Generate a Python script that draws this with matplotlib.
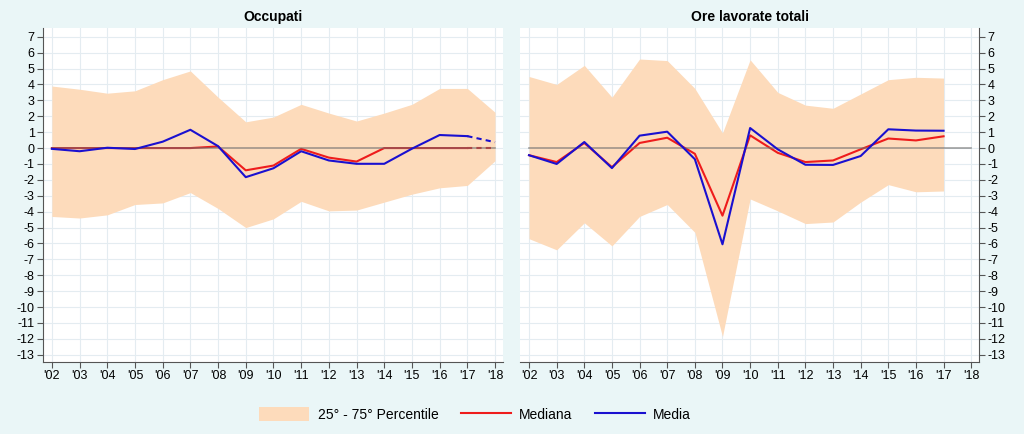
import matplotlib.pyplot as plt
from matplotlib.patches import Patch
from matplotlib.lines import Line2D
import numpy as np

plt.rcParams['font.family'] = ['Liberation Sans', 'DejaVu Sans']
plt.rcParams['axes.unicode_minus'] = False

years = list(range(2002, 2019))
tick_labels = ["'%02d" % (y % 100) for y in years]

# Occupati (2002-2018; 2018 drawn dashed)
occ_p75 = [3.9, 3.7, 3.45, 3.6, 4.3, 4.85, 3.2, 1.65, 1.95, 2.75, 2.2, 1.7, 2.2, 2.75, 3.75, 3.75, 2.25]
occ_p25 = [-4.3, -4.4, -4.2, -3.55, -3.45, -2.8, -3.8, -5.0, -4.45, -3.35, -3.95, -3.9, -3.4, -2.9, -2.5, -2.35, -0.8]
occ_median = [0.0, 0.0, 0.0, 0.0, 0.0, 0.0, 0.1, -1.4, -1.1, -0.05, -0.6, -0.85, 0.0, 0.0, 0.0, 0.0, 0.0]
occ_mean = [-0.05, -0.2, 0.02, -0.06, 0.4, 1.15, 0.12, -1.83, -1.27, -0.2, -0.78, -0.99, -0.99, -0.04, 0.82, 0.75, 0.37]

# Ore lavorate totali (2002-2017)
ore_p75 = [4.5, 4.0, 5.2, 3.2, 5.6, 5.5, 3.75, 0.95, 5.55, 3.5, 2.7, 2.5, 3.4, 4.3, 4.45, 4.4]
ore_p25 = [-5.7, -6.4, -4.7, -6.15, -4.3, -3.55, -5.3, -11.85, -3.2, -3.95, -4.75, -4.65, -3.4, -2.3, -2.75, -2.7]
ore_median = [-0.45, -0.88, 0.32, -1.2, 0.32, 0.65, -0.36, -4.25, 0.8, -0.3, -0.88, -0.78, -0.08, 0.6, 0.48, 0.74]
ore_mean = [-0.45, -1.0, 0.38, -1.26, 0.78, 1.03, -0.7, -6.05, 1.26, -0.08, -1.05, -1.06, -0.5, 1.18, 1.1, 1.09]

bg = '#EAF6F7'
band_col = '#FDDBBB'
red = '#EE1C1C'
blue = '#1A10D0'
grid_col = '#E4ECF1'
axis_col = '#555555'

fig = plt.figure(figsize=(10.24, 4.34), dpi=100, facecolor=bg)
ax1 = fig.add_axes([0.042, 0.166, 0.449, 0.7695])
ax2 = fig.add_axes([0.508, 0.166, 0.448, 0.7695])


def draw(ax, p25, p75, med, mean, title, solid_n, right):
    n = len(p25)
    x = years[:n]
    ax.set_facecolor('white')
    ax.fill_between(x, p25, p75, color=band_col, lw=0, zorder=1)
    ax.plot(x[:solid_n], med[:solid_n], color=red, lw=1.5, zorder=3)
    ax.plot([years[0], years[-1]], [0, 0], color='#6E6E6E', lw=1.2, alpha=0.65, zorder=3.5)
    ax.plot(x[:solid_n], mean[:solid_n], color=blue, lw=1.5, zorder=4)
    if solid_n < n:
        ax.plot(x[solid_n - 1:], med[solid_n - 1:], color=red, lw=1.5, ls=(0, (2.5, 2)), zorder=3)
        ax.plot(x[solid_n - 1:], mean[solid_n - 1:], color=blue, lw=1.5, ls=(0, (2.5, 2)), zorder=4)
    ax.set_xlim(2001.68, 2018.28)
    ax.set_ylim(-13.45, 7.55)
    ax.set_xticks(years)
    ax.set_xticklabels(tick_labels)
    ax.set_yticks(range(-13, 8))
    ax.grid(True, color=grid_col, lw=0.8, zorder=0)
    ax.set_axisbelow(True)
    for s in ['top', 'right', 'left', 'bottom']:
        ax.spines[s].set_visible(False)
    ax.spines['bottom'].set_visible(True)
    ax.spines['bottom'].set_color(axis_col)
    if right:
        ax.spines['right'].set_visible(True)
        ax.spines['right'].set_color(axis_col)
        ax.yaxis.tick_right()
    else:
        ax.spines['left'].set_visible(True)
        ax.spines['left'].set_color(axis_col)
    ax.tick_params(axis='both', labelsize=9, color=axis_col, length=4, width=0.8, pad=2)
    ax.set_title(title, fontsize=10, fontweight='bold', pad=5)


draw(ax1, occ_p25, occ_p75, occ_median, occ_mean, 'Occupati', 16, False)
draw(ax2, ore_p25, ore_p75, ore_median, ore_mean, 'Ore lavorate totali', 16, True)

handles = [Patch(facecolor=band_col, edgecolor='none'),
           Line2D([], [], color=red, lw=1.5),
           Line2D([], [], color=blue, lw=1.5)]
labels = ['25° - 75° Percentile', 'Mediana', 'Media']
fig.legend(handles, labels, loc='center', bbox_to_anchor=(0.464, 0.045), ncol=3,
           frameon=False, fontsize=10, handlelength=3.6, handleheight=1.1,
           columnspacing=1.6, handletextpad=0.6)

fig.savefig('out.png', dpi=100, facecolor=bg)
